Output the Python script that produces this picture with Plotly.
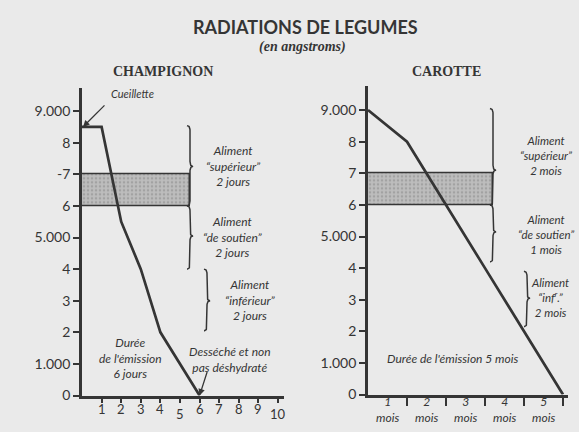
import numpy as np
import plotly.graph_objects as go

W, H = 579, 432

# ---- data ----
champ_days = [0, 1, 2, 3, 4, 6]
champ_values = [8500, 8500, 5500, 4000, 2000, 0]
carotte_months = [0, 1, 3, 4, 5]
carotte_values = [9000, 8000, 4000, 2000, 0]

band_low, band_high = 6000, 7000
band_end_champ = 5.5      # days
band_end_carotte = 3.2    # months

y_tickvals = [0, 1000, 2000, 3000, 4000, 5000, 6000, 7000, 8000, 9000]
champ_y_ticktext = ["0", "1.000", "2", "3", "4", "5.000", "6", "-7", "8", "9.000"]
carotte_y_ticktext = ["0", "1.000", "2", "3", "4", "5.000", "6", "7", "8", "9.000"]
champ_x_ticks = [1, 2, 3, 4, 5, 6, 7, 8, 9, 10]
champ_x_labels = ["1", "2", "3", "4", "5", "6", "7", "8", "9", "10"]
carotte_x_ticks = [1, 2, 3, 4, 5]
carotte_x_labels = ["1<br>mois", "2<br>mois", "3<br>mois", "4<br>mois", "5<br>mois"]

# brace ranges (top, cusp, bottom) in angstroms
champ_braces = [(8540, 7250, 6000), (6000, 5050, 4000), (4000, 3000, 2050)]
carotte_braces = [(9050, 7100, 6000), (6000, 5150, 4200), (3900, 3050, 2150)]

# ---- geometry ----
INK = "#353535"
BG = "#eaeaea"
PX_Y = 32.2 / 1000.0   # px per angstrom
PX_DAY = 19.6
PX_MONTH = 39.0

def px(x, y):
    return x / W, 1 - y / H

fig = go.Figure()

def brace_xy(xm, top, cusp, bot, w, h, n=14):
    t = np.linspace(0, 1, n)
    def qb(p0, p1, p2):
        return ((1 - t) ** 2 * p0[0] + 2 * (1 - t) * t * p1[0] + t ** 2 * p2[0],
                (1 - t) ** 2 * p0[1] + 2 * (1 - t) * t * p1[1] + t ** 2 * p2[1])
    xb = xm - w / 2
    segs = [qb((xb, top), (xm, top), (xm, top - h)),
            qb((xm, cusp + h), (xm, cusp), (xb + w, cusp)),
            qb((xb + w, cusp), (xm, cusp), (xm, cusp - h)),
            qb((xm, bot + h), (xm, bot), (xb, bot))]
    xs = np.concatenate([s[0] for s in segs])
    ys = np.concatenate([s[1] for s in segs])
    return xs, ys

# band (stippled)
for xa, ya, xend in [("x", "y", band_end_champ), ("x2", "y2", band_end_carotte)]:
    fig.add_trace(go.Bar(x=[xend / 2], y=[band_high - band_low], base=[band_low], width=[xend],
                         xaxis=xa, yaxis=ya, showlegend=False, hoverinfo="skip",
                         marker=dict(color="#b8b8b8", line=dict(color=INK, width=1.5),
                                     pattern=dict(shape=".", fgcolor="#858585", bgcolor="#bdbdbd",
                                                  size=4, solidity=0.3))))

# data lines
fig.add_trace(go.Scatter(x=champ_days, y=champ_values, mode="lines", xaxis="x", yaxis="y",
                         line=dict(color=INK, width=2.7), showlegend=False, cliponaxis=False))
fig.add_trace(go.Scatter(x=carotte_months, y=carotte_values, mode="lines", xaxis="x2", yaxis="y2",
                         line=dict(color=INK, width=2.7), showlegend=False, cliponaxis=False))

# braces
h_val = 5 / PX_Y
champ_brace_x = [(190 - 82) / PX_DAY, (190 - 82) / PX_DAY, (207 - 82) / PX_DAY]
for xm, (tp, cu, bt) in zip(champ_brace_x, champ_braces):
    xs, ys = brace_xy(xm, tp, cu, bt, 6 / PX_DAY, h_val)
    fig.add_trace(go.Scatter(x=xs, y=ys, mode="lines", xaxis="x", yaxis="y", showlegend=False,
                             line=dict(color=INK, width=1.5), cliponaxis=False, hoverinfo="skip"))
carotte_brace_x = [(493 - 368) / PX_MONTH, (493 - 368) / PX_MONTH, (527 - 368) / PX_MONTH]
for xm, (tp, cu, bt) in zip(carotte_brace_x, carotte_braces):
    xs, ys = brace_xy(xm, tp, cu, bt, 6 / PX_MONTH, h_val)
    fig.add_trace(go.Scatter(x=xs, y=ys, mode="lines", xaxis="x2", yaxis="y2", showlegend=False,
                             line=dict(color=INK, width=1.5), cliponaxis=False, hoverinfo="skip"))

axis_common = dict(showgrid=False, zeroline=False, showline=True, linecolor=INK, linewidth=2.7,
                   ticks="outside", tickcolor=INK, tickwidth=1.6, fixedrange=True)
tickfont = dict(family="Lato", size=14, color=INK)

fig.update_layout(
    width=W, height=H, autosize=False, margin=dict(l=0, r=0, t=0, b=0, pad=0),
    paper_bgcolor=BG, plot_bgcolor="rgba(0,0,0,0)", bargap=0, showlegend=False,
    xaxis=dict(domain=[82 / W, 284 / W], range=[0, 202 / PX_DAY], anchor="y",
               tickvals=champ_x_ticks, showticklabels=False, ticklen=5, **axis_common),
    yaxis=dict(domain=[(H - 403) / H, (H - 90) / H], range=[0, 313 / PX_Y], anchor="x",
               tickvals=y_tickvals, ticktext=champ_y_ticktext, ticklen=6, tickfont=tickfont,
               **axis_common),
    xaxis2=dict(domain=[368 / W, 568 / W], range=[0, 200 / PX_MONTH], anchor="y2",
                tickvals=carotte_x_ticks, showticklabels=False, ticklen=9, **axis_common),
    yaxis2=dict(domain=[(H - 402) / H, (H - 88) / H], range=[0, 314 / PX_Y], anchor="x2",
                tickvals=y_tickvals, ticktext=carotte_y_ticktext, ticklen=6, tickfont=tickfont,
                **axis_common),
)

ann = []
def text(x, y, s, size=12, family="Lato", **kw):
    xp, yp = px(x, y)
    d = dict(x=xp, y=yp, xref="paper", yref="paper", text=s, showarrow=False,
             xanchor="center", yanchor="middle",
             font=dict(family=family, size=size, color=INK), align="center")
    d.update(kw)
    ann.append(d)

text(305, 27, "<b>RADIATIONS DE LEGUMES</b>", size=18)
text(302, 48, "<b><i>(en angstroms)</i></b>", size=14, family="Liberation Serif")
text(163, 73, "<b>CHAMPIGNON</b>", size=14, family="Liberation Serif")
text(446, 73, "<b>CAROTTE</b>", size=14, family="Liberation Serif")
text(132, 95, "<i>Cueillette</i>", size=11)
text(233, 169, "<i>Aliment<br>“supérieur”<br>2 jours</i>")
text(233, 241, "<i>Aliment<br>“de soutien”<br>2 jours</i>")
text(250, 306, "<i>Aliment<br>“inférieur”<br>2 jours</i>")
text(130, 365, "<i>Durée<br>de l'émission<br>6 jours</i>")
text(230, 366, "<i>Desséché et non<br>pas déshydraté</i>")
text(546, 158, "<i>Aliment<br>“supérieur”<br>2 mois</i>", size=11.5)
text(546, 239, "<i>Aliment<br>“de soutien”<br>1 mois</i>", size=11.5)
text(550, 303, "<i>Aliment<br>“inf<sup>r</sup>.”<br>2 mois</i>", size=11.5)
text(452, 365, "<i>Durée de l'émission 5 mois</i>")

# day tick labels (5 and 10 sit a little lower, as in the original)
for v, lab in zip(champ_x_ticks, champ_x_labels):
    ypx = 422 if v % 5 == 0 else 417
    ann.append(dict(x=v, y=px(0, ypx)[1], xref="x", yref="paper", text=lab, showarrow=False,
                    xanchor="center", yanchor="middle", font=dict(family="Lato", size=13, color=INK)))

# month labels
for i, lab in enumerate(carotte_x_labels):
    ann.append(dict(x=carotte_x_ticks[i] - 0.5, y=px(0, 417)[1], xref="x2", yref="paper",
                    text="<i>" + lab + "</i>", showarrow=False, xanchor="center", yanchor="middle",
                    font=dict(family="Lato", size=12, color=INK)))

# arrows
ann.append(dict(x=0.05, y=champ_values[0], xref="x", yref="y", ax=107 - 84, ay=103 - 126,
                text="", showarrow=True, arrowhead=2, arrowsize=1,
                arrowwidth=1.3, arrowcolor=INK))
ann.append(dict(x=champ_days[-1], y=champ_values[-1], xref="x", yref="y", ax=208 - 200, ay=378 - 403,
                text="", showarrow=True, arrowhead=2, arrowsize=1, arrowwidth=1.3, arrowcolor=INK))

fig.update_layout(annotations=ann)
fig.write_html("out.html", config={"displayModeBar": False, "responsive": False},
               post_script="document.body.style.margin='0';document.body.style.overflow='hidden';")
